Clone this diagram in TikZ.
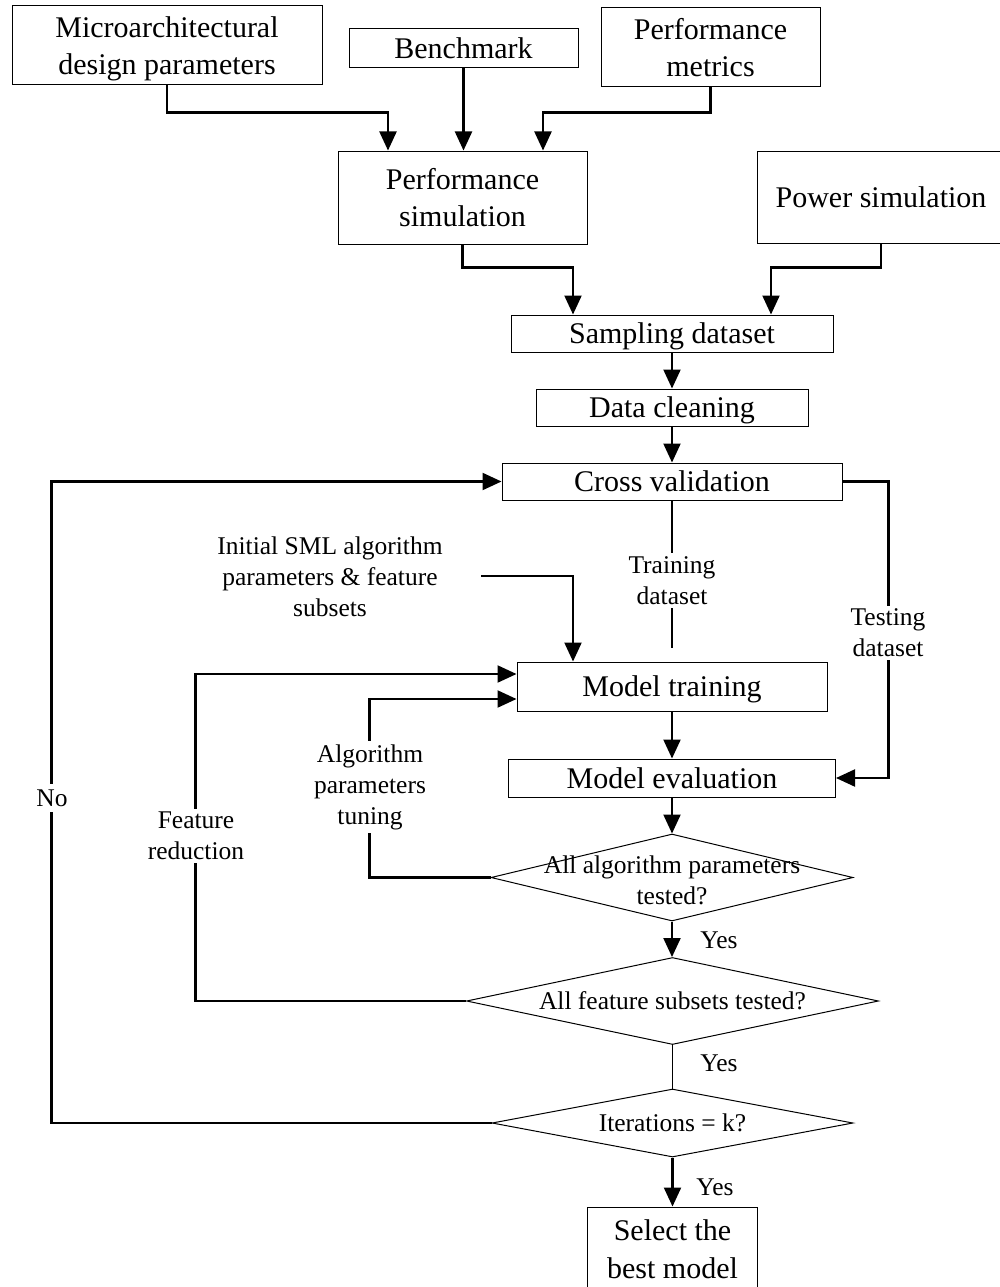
\documentclass[tikz,border=0pt]{standalone}
\usepackage{fontspec}
\setmainfont{Liberation Serif}
\usetikzlibrary{arrows.meta,shapes.geometric,calc}
\begin{document}
\begin{tikzpicture}[x=1pt,y=-1pt]
\tikzset{
  big/.style={font=\fontsize{30}{37.5}\selectfont},
  small/.style={font=\fontsize{25.5}{31}\selectfont},
  box/.style={draw, line width=1pt, rectangle, inner sep=0pt, align=center, text depth=0pt, big},
  dia/.style={draw, line width=1pt, diamond, inner sep=0pt},
  conn/.style={line width=2.2pt, -{Triangle[length=19pt,width=17pt]}},
  link/.style={line width=2pt},
  thin link/.style={line width=1pt},
  lbl/.style={small, align=center, fill=white, inner sep=3pt},
  ans/.style={small, inner sep=0pt},
}
\clip (0,0) rectangle (1000,1287);

% input boxes
\node[box, minimum width=310pt, minimum height=79pt] (micro) at (167,45.5) {Microarchitectural\\design parameters};
\node[box, minimum width=229pt, minimum height=39pt] (bench) at (463.5,48.5) {Benchmark};
\node[box, minimum width=219pt, minimum height=79pt] (metrics) at (710.5,47.5) {Performance\\metrics};

% simulators
\node[box, minimum width=249pt, minimum height=93pt] (perfsim) at (462.5,197.5) {Performance\\simulation};
\node[box, minimum width=248pt, minimum height=92pt] (power) at (881,197) {Power simulation};

% data preparation
\node[box, minimum width=322pt, minimum height=37pt] (sampling) at (672,333.5) {Sampling dataset};
\node[box, minimum width=272pt, minimum height=37pt] (cleaning) at (672,407.5) {Data cleaning};
\node[box, minimum width=340pt, minimum height=37pt] (cv) at (672,481.5) {Cross validation};

% modelling
\node[box, minimum width=310pt, minimum height=49pt] (train) at (672,686.5) {Model training};
\node[box, minimum width=327pt, minimum height=38pt] (eval) at (672,778) {Model evaluation};

% decisions
\node[dia, minimum width=362pt, minimum height=87pt] (d1) at (672,877.5) {};
\node[small, align=center, inner sep=0pt] (d1t) at (672,880) {All algorithm parameters\\tested?};
\node[dia, minimum width=412pt, minimum height=87pt] (d2) at (672.5,1001) {};
\node[small, inner sep=0pt] (d2t) at (672.5,1001) {All feature subsets tested?};
\node[dia, minimum width=361pt, minimum height=68pt] (d3) at (672.5,1123) {};
\node[small, inner sep=0pt] (d3t) at (672.5,1123) {Iterations = k?};

% result
\node[box, minimum width=170pt, minimum height=84pt] (select) at (672.5,1249) {Select the\\best model};

% initial settings
\node[small, align=center, inner sep=0pt] (init) at (330,577) {Initial SML algorithm\\parameters \& feature\\subsets};
\coordinate (initout) at (481,576);

% connectors into the performance simulation
\draw[conn] (micro.south) -- ++(0,27) -| ([xshift=-74.5pt]perfsim.north);
\draw[conn] (bench.south) -- (bench.south |- perfsim.north);
\draw[conn] (metrics.south) -- ++(0,25) -| ([xshift=80.5pt]perfsim.north);

% simulators into the sampling dataset
\draw[conn] (perfsim.south) -- ++(0,23) -| ([xshift=-99pt]sampling.north);
\draw[conn] (power.south) -- ++(0,24) -| ([xshift=99pt]sampling.north);

% main column
\draw[conn] (sampling.south) -- (cleaning.north);
\draw[conn] (cleaning.south) -- (cv.north);
\draw[link] (cv.south) -- ([yshift=14pt]train.north);
\draw[conn] (cv.east) -- ++(46,0) |- (eval.east);
\draw[conn] (initout) -| ([xshift=-99pt]train.north);
\draw[conn] (train.south) -- (eval.north);
\draw[conn] (eval.south) -- (d1.north);
\draw[conn] (d1.south) -- (d1.south |- d2.north);
\draw[thin link] (d2.south) -- (d3.north);
\draw[conn] (d3.south) -- (select.north);

% feedback loops
\draw[conn] (d1.west) -| ([xshift=-147pt,yshift=-12.5pt]train.west) -- ([yshift=-12.5pt]train.west);
\draw[conn] (d2.west) -| ([xshift=-321pt,yshift=12.5pt]train.west) -- ([yshift=12.5pt]train.west);
\draw[conn] (d3.west) -| ([xshift=-450pt]cv.west) -- (cv.west);

% connector labels
\node[lbl] (trainlbl) at (672,580.5) {Training\\dataset};
\node[lbl] (testlbl) at (888,633) {Testing\\dataset};
\node[lbl] (alglbl) at (370,787) {Algorithm\\parameters\\tuning};
\node[lbl] (featlbl) at (196,836) {Feature\\reduction};
\node[lbl, inner sep=6pt] (nolbl) at (52,798) {No};
\node[ans] (yes1) at (719,940) {Yes};
\node[ans] (yes2) at (719,1063) {Yes};
\node[ans] (yes3) at (715,1187) {Yes};
\end{tikzpicture}
\end{document}
